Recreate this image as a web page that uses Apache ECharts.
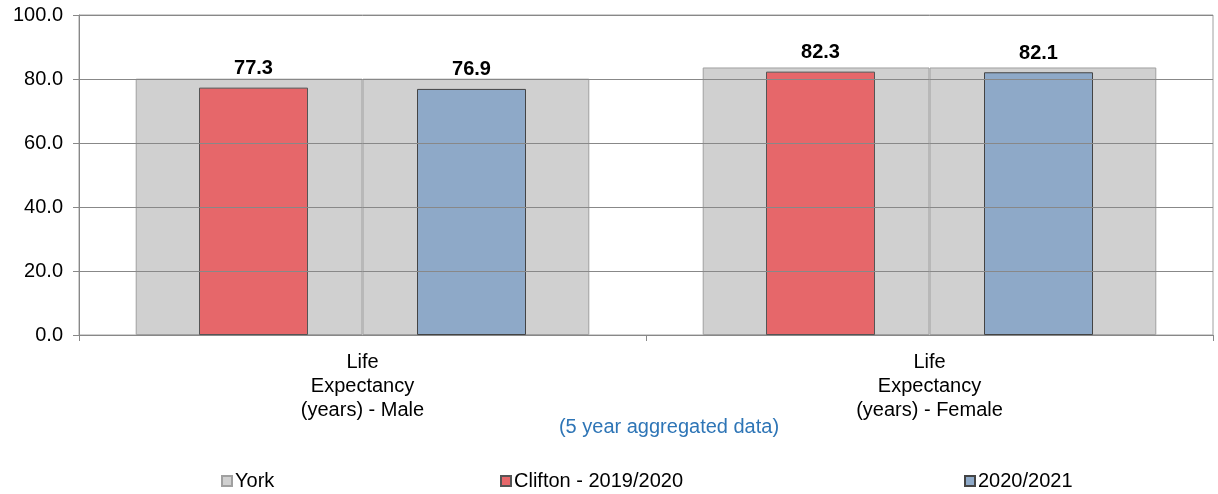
<!DOCTYPE html>
<html>
<head>
<meta charset="utf-8">
<script src="https://cdn.jsdelivr.net/npm/echarts@6/dist/echarts.min.js"></script>
<style>
    html, body { margin: 0; padding: 0; background: #fff; }
    #chart { width: 1218px; height: 494px; }
</style>
</head>
<body>
<div id="chart"></div>
<script>
    // data
    var categories = ['Life\nExpectancy\n(years) - Male', 'Life\nExpectancy\n(years) - Female'];
    var yorkValues = [80.1, 83.6];
    var clifton1920 = [77.3, 82.3];
    var clifton2021 = [76.9, 82.1];
    var legendNames = ['York', 'Clifton - 2019/2020', '2020/2021'];
    var footNote = '(5 year aggregated data)';

    var font = 'Liberation Sans, Arial, sans-serif';
    var myChart = echarts.init(document.getElementById('chart'));

    var barLabel = {
        show: true,
        position: 'top',
        distance: 9,
        fontFamily: font,
        fontSize: 20,
        fontWeight: 'bold',
        color: '#000',
        formatter: function (p) { return p.value.toFixed(1); }
    };

    function legendAt(name, left) {
        return {
            data: [name],
            left: left,
            top: 471,
            icon: 'rect',
            itemWidth: 10,
            itemHeight: 10,
            itemGap: 3,
            padding: 0,
            textStyle: { fontFamily: font, fontSize: 20, color: '#000', padding: [0, 0, 0, -2] }
        };
    }

    var option = {
        animation: false,
        grid: {
            left: 79, right: 5, top: 15, bottom: 159,
            show: true, borderColor: '#a0a0a0', borderWidth: 1
        },
        legend: [
            legendAt(legendNames[0], 221),
            legendAt(legendNames[1], 500),
            legendAt(legendNames[2], 964)
        ],
        graphic: [{
            type: 'text',
            x: 669, y: 427,
            style: {
                text: footNote,
                fontFamily: font, fontSize: 20,
                fill: '#2e75b6',
                align: 'center', verticalAlign: 'middle'
            }
        }],
        xAxis: [{
            type: 'category',
            data: categories,
            axisLine: { lineStyle: { color: '#888' } },
            axisTick: { show: true, length: 6, lineStyle: { color: '#888' } },
            axisLabel: {
                fontFamily: font, fontSize: 20, color: '#000',
                lineHeight: 24, margin: 15
            }
        }, {
            type: 'category',
            data: categories,
            show: false
        }],
        yAxis: {
            type: 'value',
            min: 0, max: 100, interval: 20,
            z: 10,
            axisLine: { show: true, lineStyle: { color: '#888' } },
            axisTick: { show: true, length: 6, lineStyle: { color: '#888' } },
            splitLine: { lineStyle: { color: '#888', width: 1 } },
            axisLabel: {
                fontFamily: font, fontSize: 20, color: '#000', margin: 16,
                formatter: function (v) { return v.toFixed(1); }
            }
        },
        series: [{
            name: 'York',
            type: 'bar',
            xAxisIndex: 1,
            data: yorkValues,
            barGap: 0,
            barCategoryGap: '20%',
            z: 2,
            itemStyle: { color: '#d0d0d0', borderColor: '#a0a0a0', borderWidth: 1 }
        }, {
            name: 'York',
            type: 'bar',
            xAxisIndex: 1,
            data: yorkValues,
            z: 2,
            itemStyle: { color: '#d0d0d0', borderColor: '#a0a0a0', borderWidth: 1 }
        }, {
            name: 'Clifton - 2019/2020',
            type: 'bar',
            xAxisIndex: 0,
            data: clifton1920,
            barWidth: 109,
            barGap: '100%',
            z: 3,
            label: barLabel,
            itemStyle: { color: '#e6676a', borderColor: '#555', borderWidth: 1 }
        }, {
            name: '2020/2021',
            type: 'bar',
            xAxisIndex: 0,
            data: clifton2021,
            barWidth: 109,
            z: 3,
            label: barLabel,
            itemStyle: { color: '#8ea9c8', borderColor: '#444', borderWidth: 1 }
        }]
    };

    myChart.setOption(option);
</script>
</body>
</html>
